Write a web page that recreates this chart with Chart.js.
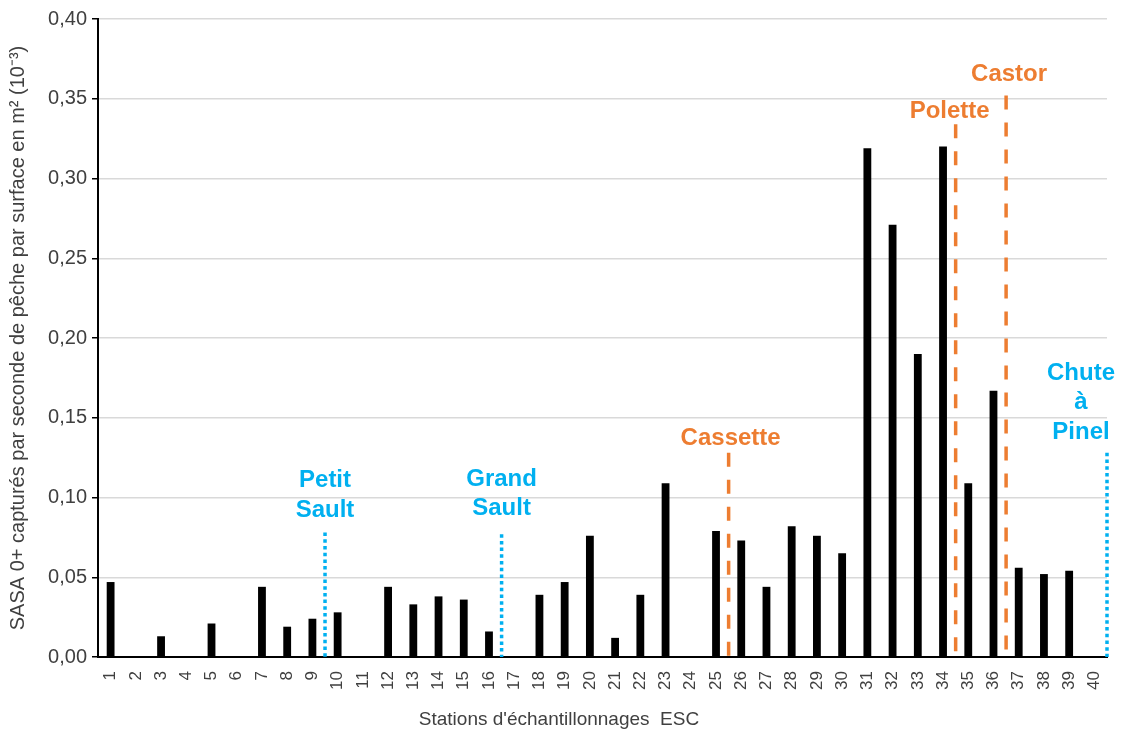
<!DOCTYPE html>
<html>
<head>
<meta charset="utf-8">
<script src="https://cdn.jsdelivr.net/npm/chart.js@4.4.1/dist/chart.umd.min.js"></script>
<style>
  html, body { margin: 0; padding: 0; background: #fff; }
  #wrap { width: 1122px; height: 737px; position: relative; }
</style>
</head>
<body>
<div id="wrap"><canvas id="chart"></canvas></div>
<script>
// Données
const stations = Array.from({ length: 40 }, (_, i) => String(i + 1));
const sasaValues = [
  0.047, 0, 0.013, 0, 0.021, 0, 0.044, 0.019, 0.024, 0.028,
  0, 0.044, 0.033, 0.038, 0.036, 0.016, 0, 0.039, 0.047, 0.076,
  0.012, 0.039, 0.109, 0, 0.079, 0.073, 0.044, 0.082, 0.076, 0.065,
  0.319, 0.271, 0.190, 0.320, 0.109, 0.167, 0.056, 0.052, 0.054, 0
];
const yTicks = [0, 0.05, 0.10, 0.15, 0.20, 0.25, 0.30, 0.35, 0.40];
const xTitle = "Stations d'échantillonnages  ESC";
const yTitle = 'SASA 0+ capturés par seconde de pêche par surface en m² (10⁻³)';

// Obstacles : position (après la station n), hauteur de la ligne, texte
const obstacleNames = [['Petit', 'Sault'], ['Grand', 'Sault'], ['Cassette'], ['Polette'], ['Castor'], ['Chute', 'à', 'Pinel']];
const obstacleAfter = [9, 16, 25, 34, 36, 40];
const obstacleTop = [0.078, 0.077, 0.128, 0.334, 0.352, 0.128];
const obstacleLabelY = [0.092, 0.093, 0.137, 0.342, 0.365, 0.141];
const obstacleType = ['chute', 'chute', 'crique', 'crique', 'crique', 'chute'];

const BLUE = '#00b0f0';
const ORANGE = '#ed7d31';
const FONT = '"Liberation Sans", Arial, sans-serif';
const labelShiftX = [0, 0, 2, -6, 3, -26];

const obstaclePlugin = {
  id: 'obstacles',
  afterDatasetsDraw(chart) {
    const ctx = chart.ctx;
    const xs = chart.scales.x;
    const ys = chart.scales.y;
    ctx.save();
    obstacleAfter.forEach((after, i) => {
      const x = xs.getPixelForValue(after - 0.5);
      const yTop = ys.getPixelForValue(obstacleTop[i]);
      const yBot = ys.getPixelForValue(0);
      const isChute = obstacleType[i] === 'chute';
      const color = isChute ? BLUE : ORANGE;
      ctx.strokeStyle = color;
      ctx.lineWidth = 3.5;
      ctx.setLineDash(isChute ? [3.5, 3.2] : [14, 13]);
      ctx.beginPath();
      ctx.moveTo(x, yTop);
      ctx.lineTo(x, yBot);
      ctx.stroke();

      ctx.setLineDash([]);
      ctx.fillStyle = color;
      ctx.font = 'bold 24px ' + FONT;
      ctx.textAlign = 'center';
      ctx.textBaseline = 'middle';
      const lines = obstacleNames[i];
      const yLast = ys.getPixelForValue(obstacleLabelY[i]);
      lines.forEach((txt, k) => {
        ctx.fillText(txt, x + labelShiftX[i], yLast - (lines.length - 1 - k) * 29.5);
      });
    });

    // titre de l'axe x (décalé à gauche comme dans l'original)
    ctx.fillStyle = '#404040';
    ctx.font = '19px ' + FONT;
    ctx.textAlign = 'center';
    ctx.textBaseline = 'middle';
    ctx.fillText(xTitle, 559, 720);
    ctx.restore();
  }
};

const ctx = document.getElementById('chart').getContext('2d');
new Chart(ctx, {
  type: 'bar',
  data: {
    labels: stations,
    datasets: [{
      data: sasaValues,
      backgroundColor: '#000',
      borderWidth: 0,
      barPercentage: 0.31,
      categoryPercentage: 1
    }]
  },
  options: {
    responsive: true,
    maintainAspectRatio: false,
    animation: false,
    layout: { padding: { top: 19, right: 15, left: 0, bottom: 0 } },
    plugins: { legend: { display: false }, tooltip: { enabled: false } },
    scales: {
      x: {
        grid: { display: false },
        border: { color: '#000', width: 2 },
        ticks: {
          color: '#404040',
          font: { family: FONT, size: 17 },
          minRotation: 90,
          maxRotation: 90,
          autoSkip: false,
          padding: 6
        },
        afterFit(scale) { scale.height = 80; }
      },
      y: {
        min: 0,
        max: 0.40,
        afterBuildTicks(scale) { scale.ticks = yTicks.map(v => ({ value: v })); },
        grid: { color: '#d9d9d9', lineWidth: 1.5, tickColor: '#000', tickLength: 6 },
        border: { color: '#000', width: 2 },
        ticks: {
          color: '#404040',
          font: { family: FONT, size: 20 },
          padding: 5,
          callback: v => v.toFixed(2).replace('.', ',')
        },
        title: {
          display: true,
          text: yTitle,
          color: '#404040',
          font: { family: FONT, size: 20 },
          padding: { top: 6, bottom: 4 }
        },
        afterFit(scale) { scale.width = 98; }
      }
    }
  },
  plugins: [obstaclePlugin]
});
</script>
</body>
</html>
